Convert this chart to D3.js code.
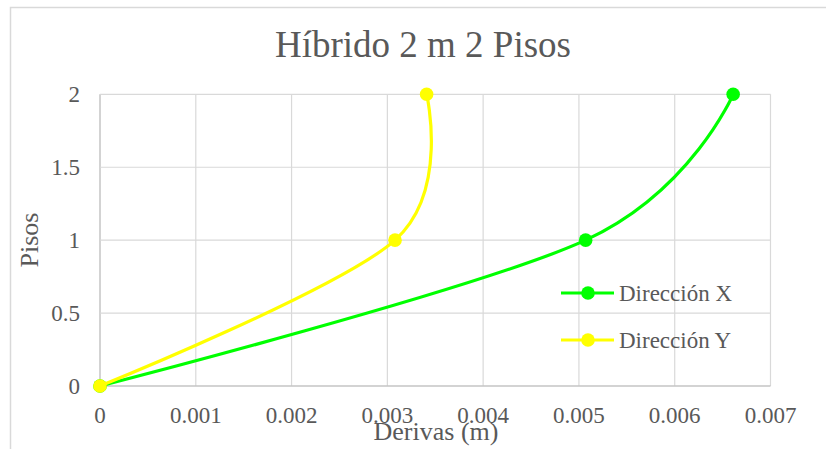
<!DOCTYPE html>
<html>
<head>
<meta charset="utf-8">
<script src="https://cdn.jsdelivr.net/npm/d3@7"></script>
<style>
  html, body { margin: 0; padding: 0; background: #fff; }
  svg { display: block; }
  text { font-family: "Liberation Serif", "Times New Roman", serif; fill: #595959; }
</style>
</head>
<body>
<svg id="chart" width="826" height="449"></svg>
<script>
// ---- Data ----
const titleText = "Híbrido 2 m 2 Pisos";
const xAxisTitle = "Derivas (m)";
const yAxisTitle = "Pisos";
const seriesNames = ["Dirección X", "Dirección Y"];
const seriesColors = ["#00ff00", "#ffff00"];
const pisos = [0, 1, 2];
const derivaX = [0, 0.00507, 0.00661];
const derivaY = [0, 0.00308, 0.00341];
const xTicks = [0, 0.001, 0.002, 0.003, 0.004, 0.005, 0.006, 0.007];
const xTickLabels = ["0", "0.001", "0.002", "0.003", "0.004", "0.005", "0.006", "0.007"];
const yTicks = [0, 0.5, 1, 1.5, 2];
const yTickLabels = ["0", "0.5", "1", "1.5", "2"];

const svg = d3.select("#chart");

// outer chart border
svg.append("rect")
  .attr("x", 10.5).attr("y", 7.5)
  .attr("width", 900).attr("height", 600)
  .attr("fill", "none").attr("stroke", "#d9d9d9").attr("stroke-width", 1.5);

const plot = { left: 100, right: 770.5, top: 94.3, bottom: 386 };
const x = d3.scaleLinear().domain([0, 0.007]).range([plot.left, plot.right]);
const y = d3.scaleLinear().domain([0, 2]).range([plot.bottom, plot.top]);

// gridlines
const g = svg.append("g");
g.selectAll("line.vg").data(xTicks).join("line")
  .attr("x1", d => x(d)).attr("x2", d => x(d))
  .attr("y1", plot.top).attr("y2", plot.bottom)
  .attr("stroke", d => d === 0 ? "#c4c4c4" : "#d9d9d9").attr("stroke-width", d => d === 0 ? 1.5 : 1.2);
g.selectAll("line.hg").data(yTicks).join("line")
  .attr("x1", plot.left).attr("x2", plot.right)
  .attr("y1", d => y(d)).attr("y2", d => y(d))
  .attr("stroke", d => d === 0 ? "#c4c4c4" : "#d9d9d9").attr("stroke-width", d => d === 0 ? 1.5 : 1.2);

// tick labels
svg.append("g").selectAll("text").data(xTicks).join("text")
  .attr("x", d => x(d)).attr("y", 423)
  .attr("text-anchor", "middle").attr("font-size", 23)
  .text((d, i) => xTickLabels[i]);
svg.append("g").selectAll("text").data(yTicks).join("text")
  .attr("x", 80).attr("y", d => y(d)).attr("dy", "0.35em")
  .attr("text-anchor", "end").attr("font-size", 23)
  .text((d, i) => yTickLabels[i]);

// title
svg.append("text").attr("x", 423).attr("y", 57)
  .attr("text-anchor", "middle").attr("font-size", 37).text(titleText);

// axis titles
svg.append("text").attr("x", 436).attr("y", 440)
  .attr("text-anchor", "middle").attr("font-size", 26).text(xAxisTitle);
svg.append("text").attr("transform", "translate(38,240) rotate(-90)")
  .attr("text-anchor", "middle").attr("font-size", 26).text(yAxisTitle);

// series
const seriesData = [derivaX, derivaY].map(vals => vals.map((v, i) => ({ x: v, y: pisos[i] })));
const line = d3.line().x(d => x(d.x)).y(d => y(d.y)).curve(d3.curveCardinal.tension(0));

seriesData.forEach((pts, si) => {
  const sg = svg.append("g");
  sg.append("path").attr("d", line(pts))
    .attr("fill", "none").attr("stroke", seriesColors[si]).attr("stroke-width", 3.2)
    .attr("stroke-linecap", "round");
  sg.selectAll("circle").data(pts).join("circle")
    .attr("cx", d => x(d.x)).attr("cy", d => y(d.y)).attr("r", 6.8)
    .attr("fill", seriesColors[si]);
});

// legend
const legY = [293, 340];
const leg = svg.append("g");
seriesNames.forEach((name, i) => {
  leg.append("line").attr("x1", 561).attr("x2", 614).attr("y1", legY[i]).attr("y2", legY[i])
    .attr("stroke", seriesColors[i]).attr("stroke-width", 3.2);
  leg.append("circle").attr("cx", 588).attr("cy", legY[i]).attr("r", 6.8).attr("fill", seriesColors[i]);
  leg.append("text").attr("x", 619).attr("y", legY[i]).attr("dy", "0.35em")
    .attr("font-size", 23).text(name);
});
</script>
</body>
</html>
